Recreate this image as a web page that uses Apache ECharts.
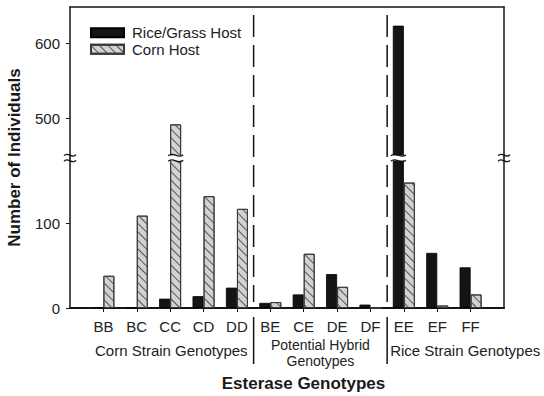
<!DOCTYPE html>
<html><head><meta charset="utf-8">
<script src="https://cdn.jsdelivr.net/npm/echarts@6/dist/echarts.min.js"></script>
<style>html,body{margin:0;padding:0;background:#fff}#c{width:544px;height:396px}</style>
</head><body><div id="c"></div>
<script>
// ---- data ----
const genotypes = ['BB','BC','CC','CD','DD','BE','CE','DE','DF','EE','EF','FF'];
const riceGrassHost = [1, 0, 11, 14, 24, 6, 16, 40, 4, 624, 65, 48];
const cornHost = [38, 109, 492, 132, 117, 7, 64, 25, 0, 148, 3, 16];
const lowerTicks = [0, 100];
const upperTicks = [500, 600];
const groupLabels = ['Corn Strain Genotypes', 'Potential Hybrid\nGenotypes', 'Rice Strain Genotypes'];
const groupStarts = ['BB', 'BE', 'EE'];
const seriesNames = ['Rice/Grass Host', 'Corn Host'];
const xTitle = 'Esterase Genotypes';
const yTitle = 'Number of Individuals';
const lowerRange = [0, 177];
const upperRange = [447, 649];

// ---- build ----
const FONT = 'Liberation Sans, Arial, Helvetica, sans-serif';
const axisCats = [''].concat(genotypes, [' ']);
const pad = a => [null].concat(a, [null]);
const chart = echarts.init(document.getElementById('c'), null, {renderer: 'svg'});
const ink = '#161616';
const riceStyle = {color: '#141414', borderColor: '#000', borderWidth: 0.8};
const cornStyle = {
  color: '#d2d2d2', borderColor: '#3a3a3a', borderWidth: 1,
  decal: {symbol: 'rect', symbolSize: 1, color: '#555', dashArrayX: [1, 0], dashArrayY: [0.9, 4.6], rotation: Math.PI / 4}
};
const yBase = (grid, range, ticks) => ([
  {gridIndex: grid, type: 'value', min: range[0], max: range[1], position: 'left',
   axisLine: {show: true, onZero: false, lineStyle: {color: ink, width: 1.5}},
   axisTick: {show: true, length: 4, customValues: ticks, lineStyle: {color: ink, width: 1}},
   axisLabel: {customValues: ticks, fontSize: 15, color: '#222', margin: 10, fontFamily: FONT},
   splitLine: {show: false}},
  {gridIndex: grid, type: 'value', min: range[0], max: range[1], position: 'right',
   axisLine: {show: true, onZero: false, lineStyle: {color: ink, width: 1.5}},
   axisTick: {show: false}, axisLabel: {show: false}, splitLine: {show: false}}
]);
const barCommon = {type: 'bar', barWidth: 11, barGap: '0%', clip: true, animation: false};
chart.setOption({
  animation: false,
  backgroundColor: '#fff',
  grid: [
    {left: 70, right: 40, top: 7, height: 151},
    {left: 70, right: 40, top: 158, height: 150}
  ],
  legend: {
    orient: 'vertical', left: 85, top: 19.5, itemWidth: 33, itemHeight: 9, itemGap: 0,
    icon: 'rect', data: seriesNames,
    textStyle: {fontSize: 15, color: '#222', lineHeight: 16.5, fontFamily: FONT, padding: [0, 0, 0, 3]}
  },
  xAxis: [
    {gridIndex: 0, type: 'category', data: axisCats, boundaryGap: false, position: 'top',
     axisLine: {show: true, onZero: false, lineStyle: {color: ink, width: 1.5}},
     axisTick: {show: false}, axisLabel: {show: false}, splitLine: {show: false}},
    {gridIndex: 1, type: 'category', data: axisCats, boundaryGap: false, position: 'bottom',
     axisLine: {show: true, onZero: false, lineStyle: {color: ink, width: 2}},
     axisTick: {show: true, length: 4, interval: (i, v) => String(v).trim() !== '', lineStyle: {color: ink, width: 1}},
     axisLabel: {interval: 0, fontSize: 15, color: '#222', margin: 11, fontFamily: FONT},
     splitLine: {show: false}}
  ],
  yAxis: yBase(0, upperRange, upperTicks).concat(yBase(1, lowerRange, lowerTicks)),
  series: [
    Object.assign({name: seriesNames[0], xAxisIndex: 1, yAxisIndex: 2, data: pad(riceGrassHost), itemStyle: riceStyle}, barCommon),
    Object.assign({name: seriesNames[1], xAxisIndex: 1, yAxisIndex: 2, data: pad(cornHost), itemStyle: cornStyle}, barCommon),
    Object.assign({name: seriesNames[0], xAxisIndex: 0, yAxisIndex: 0, data: pad(riceGrassHost), itemStyle: riceStyle}, barCommon),
    Object.assign({name: seriesNames[1], xAxisIndex: 0, yAxisIndex: 0, data: pad(cornHost), itemStyle: cornStyle}, barCommon)
  ]
});

// ---- decorations positioned through the axes ----
(function () {
  const X = v => chart.convertToPixel({xAxisIndex: 1}, v);
  const YL = v => chart.convertToPixel({yAxisIndex: 2}, v);
  const YU = v => chart.convertToPixel({yAxisIndex: 0}, v);
  const pLeft = X(0), pRight = X(axisCats.length - 1);
  const pBase = YL(0), pBrk = YL(lowerRange[1]), pTop = YU(upperRange[1]);
  const g = [];
  function squiggle(cx, cy, w) {
    g.push({type: 'bezierCurve', silent: true, z: 100,
      shape: {x1: cx - w / 2, y1: cy + 0.5, x2: cx + w / 2, y2: cy - 0.5,
              cpx1: cx - w / 6, cpy1: cy - 4.5, cpx2: cx + w / 6, cpy2: cy + 4.5},
      style: {stroke: '#111', lineWidth: 1.3, fill: null}});
  }
  function breakMark(cx, w, gap) {
    if (gap) g.push({type: 'rect', silent: true, z: 99,
      shape: {x: cx - w / 2 + 1, y: pBrk - 2.5, width: w - 2, height: 5}, style: {fill: '#fff'}});
    squiggle(cx, pBrk - 2.8, w);
    squiggle(cx, pBrk + 2.8, w);
  }
  breakMark(pLeft, 12, false);
  breakMark(pRight, 12, false);
  genotypes.forEach((c, i) => {
    const cx = X(i + 1);
    if (riceGrassHost[i] > lowerRange[1]) breakMark(cx - 5.5, 15, true);
    if (cornHost[i] > lowerRange[1]) breakMark(cx + 5.5, 15, true);
  });
  const gIdx = groupStarts.map(s => genotypes.indexOf(s) + 1);
  const seps = gIdx.slice(1).map(i => (X(i - 1) + X(i)) / 2);
  seps.forEach(sx => {
    g.push({type: 'line', silent: true, shape: {x1: sx, y1: pTop + 8, x2: sx, y2: pBase - 6},
      style: {stroke: '#111', lineWidth: 1.5, lineDash: [22, 8]}});
    g.push({type: 'line', silent: true, shape: {x1: sx, y1: pBase + 9, x2: sx, y2: pBase + 56},
      style: {stroke: '#111', lineWidth: 1.5}});
  });
  const txt = (text, x, y, align, size, lh) => g.push({type: 'text', silent: true, x: x, y: y,
    style: {text: text, x: 0, y: 0, align: align, verticalAlign: 'middle', fill: '#222',
            fontSize: size, fontFamily: FONT, lineHeight: lh}});
  txt(groupLabels[0], seps[0] - 6, pBase + 42, 'right', 15, 17);
  txt(groupLabels[1], (seps[0] + seps[1]) / 2, pBase + 45, 'center', 14, 16.5);
  txt(groupLabels[2], seps[1] + 3, pBase + 42, 'left', 15, 17);
  g.push({type: 'text', silent: true, x: (pLeft + pRight) / 2 + 16.5, y: 383,
    style: {text: xTitle, x: 0, y: 0, align: 'center', verticalAlign: 'middle', fill: '#1a1a1a',
            fontSize: 17, fontWeight: 'bold', fontFamily: FONT}});
  g.push({type: 'text', silent: true, x: 14, y: (pTop + pBase) / 2, rotation: Math.PI / 2,
    style: {text: yTitle, x: 0, y: 0, align: 'center', verticalAlign: 'middle', fill: '#1a1a1a',
            fontSize: 17, fontWeight: 'bold', fontFamily: FONT}});
  chart.setOption({graphic: {elements: g}});
})();
</script></body></html>
